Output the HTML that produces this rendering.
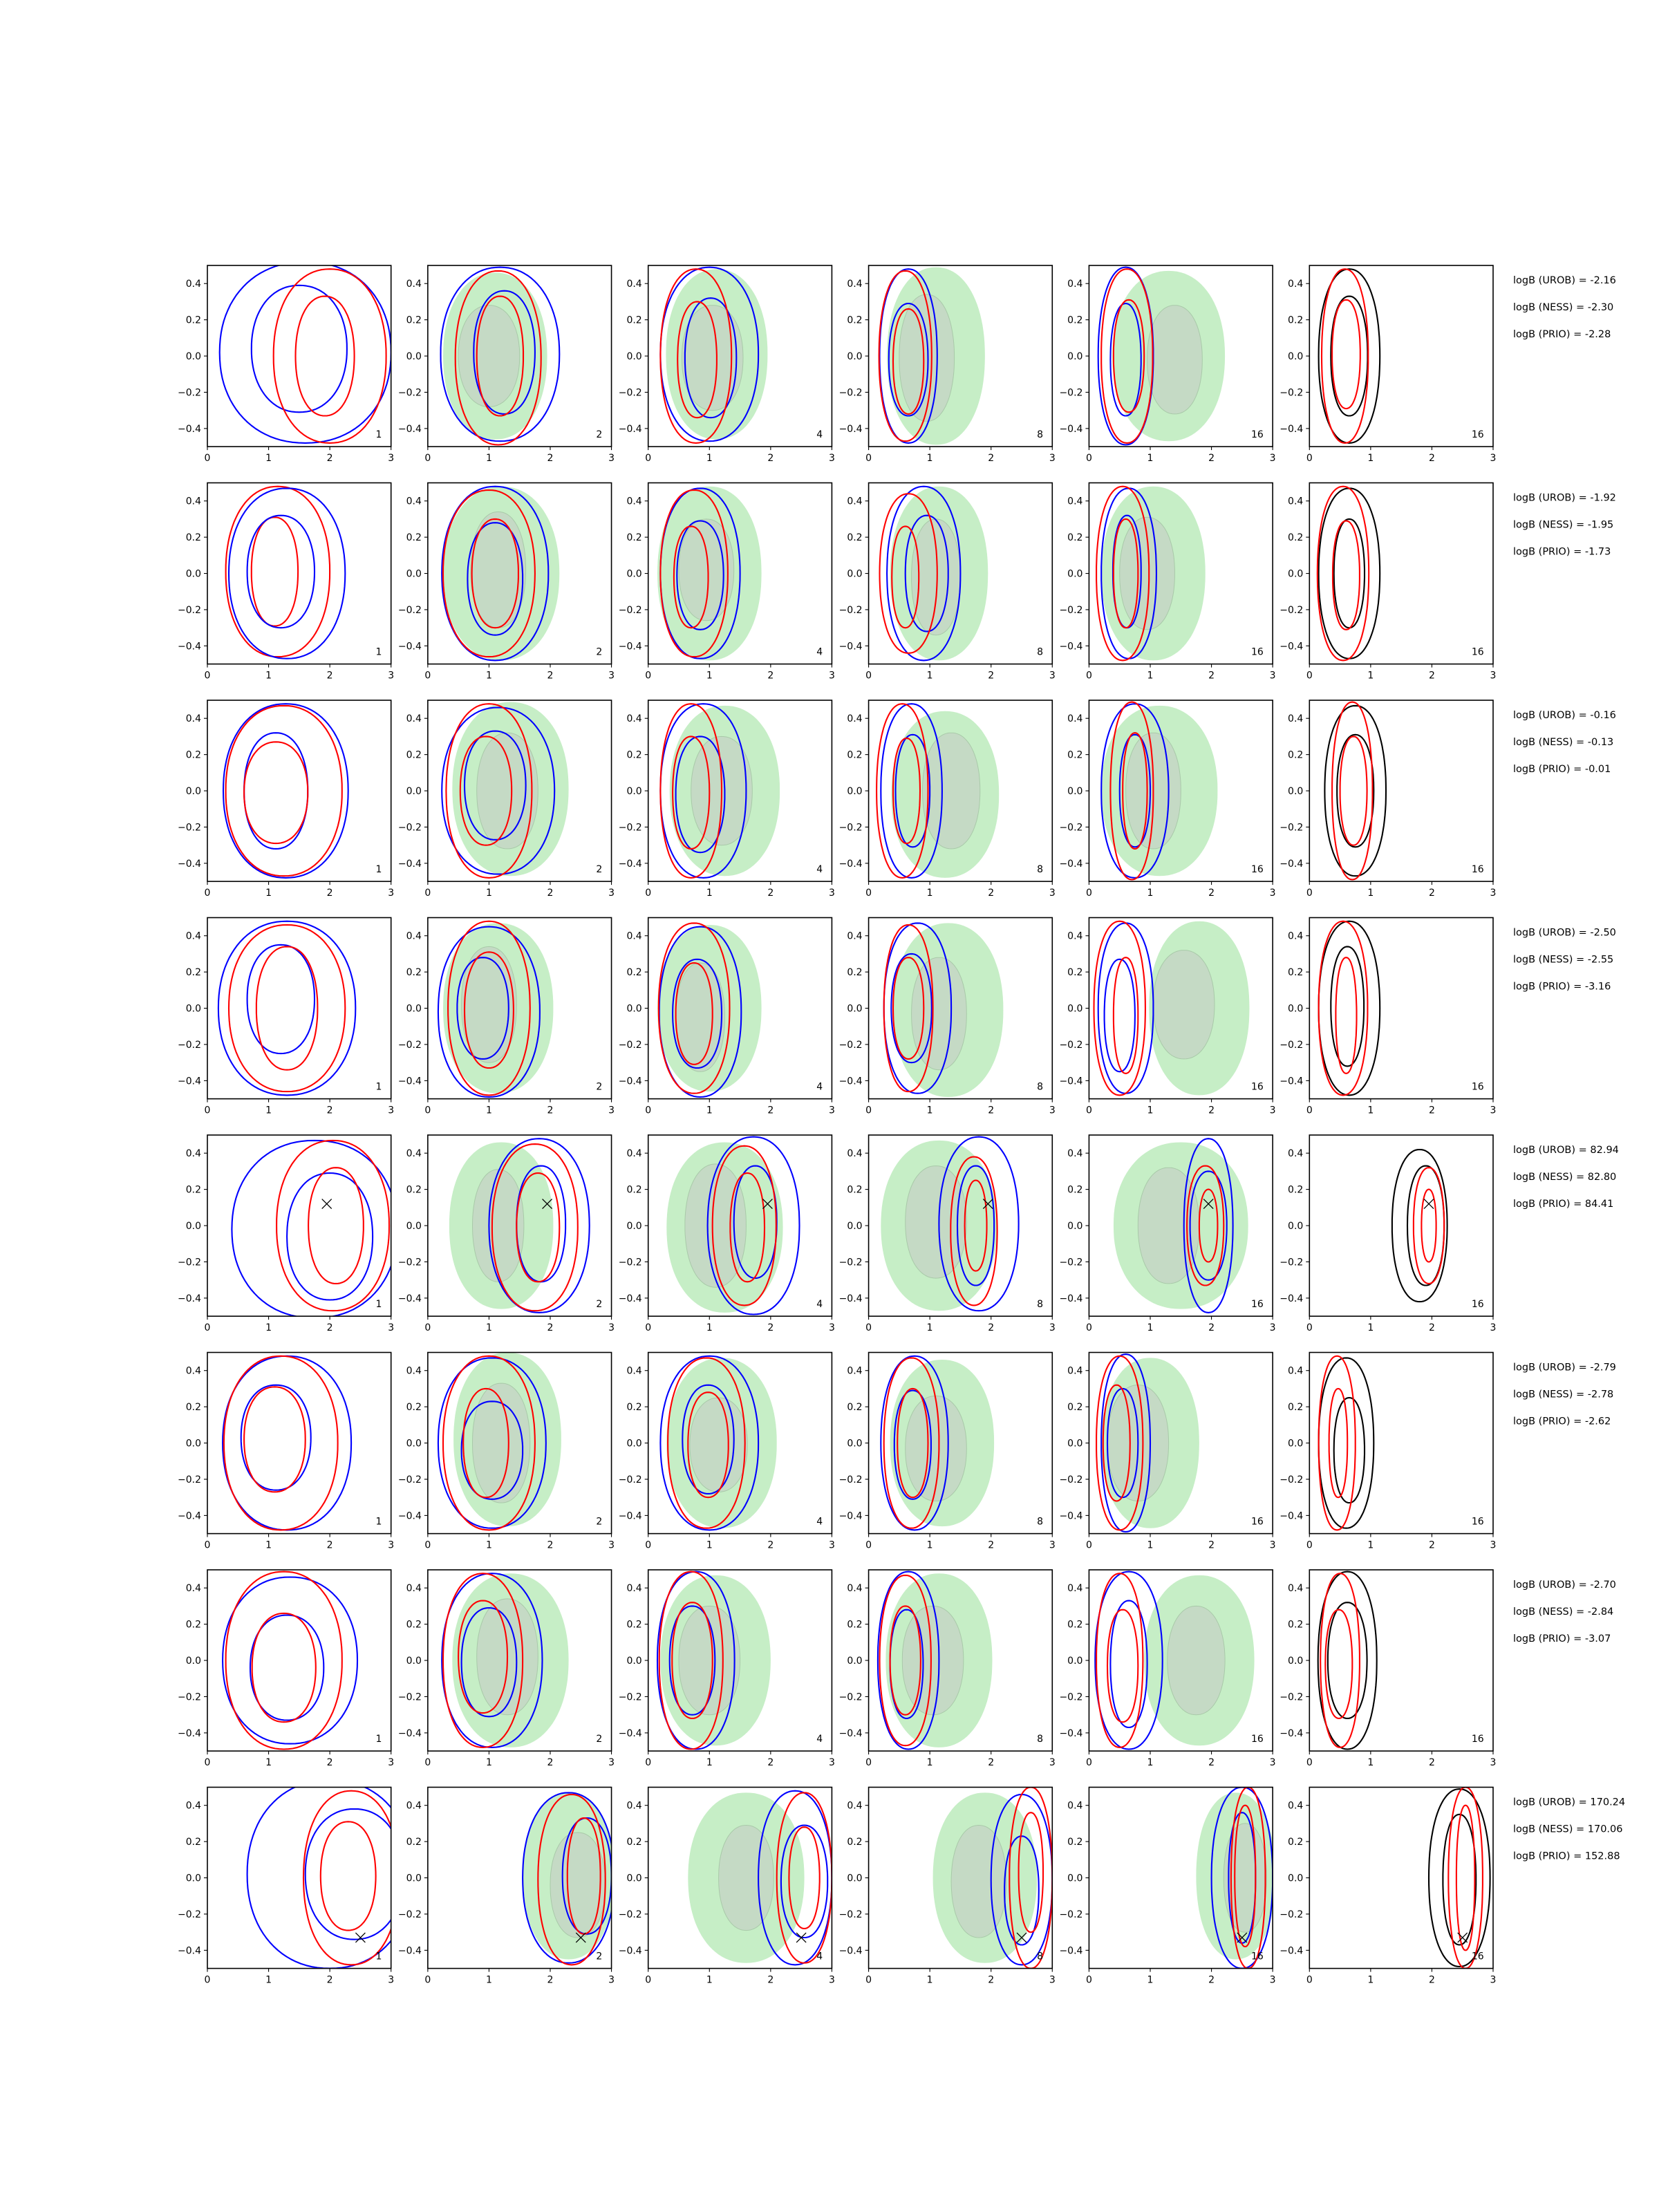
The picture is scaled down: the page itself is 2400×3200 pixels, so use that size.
<!DOCTYPE html>
<html><head><meta charset="utf-8">
<style>
html,body{margin:0;padding:0;background:#fff;}
svg{display:block;font-family:"DejaVu Sans","Liberation Sans",sans-serif;}
</style></head>
<body>
<svg id="fig" width="2400" height="3200" viewBox="0 0 2400 3200" xmlns="http://www.w3.org/2000/svg"></svg>
<script>
// ---- data ----
const panelLabels = ["1","2","4","8","16","16"];
const xTicks = [0,1,2,3];
const yTicks = [-0.4,-0.2,0.0,0.2,0.4];
const logUROB = ["-2.16","-1.92","-0.16","-2.50","82.94","-2.79","-2.70","170.24"];
const logNESS = ["-2.30","-1.95","-0.13","-2.55","82.80","-2.78","-2.84","170.06"];
const logPRIO = ["-2.28","-1.73","-0.01","-3.16","84.41","-2.62","-3.07","152.88"];
const truthX = [null,null,null,null,1.95,null,null,2.5];
const truthY = [null,null,null,null,0.12,null,null,-0.33];
// contours per row: panel -> list of [kind, cx, cy, rx, ry]; g=green fill, k=grey fill, b=blue, r=red, n=black
const row1 = [
 [["b",1.6,0.02,1.4,0.5],["b",1.5,0.04,0.78,0.35],["r",2.0,0,0.92,0.48],["r",1.92,0,0.48,0.33]],
 [["g",1.1,0,0.85,0.46],["k",1.0,0,0.5,0.28],["b",1.18,0.01,0.97,0.48],["b",1.25,0.02,0.5,0.34],["r",1.15,-0.01,0.7,0.48],["r",1.18,0,0.38,0.33]],
 [["g",1.12,0.01,0.83,0.47],["k",1.05,-0.01,0.5,0.29],["b",1.0,0.01,0.8,0.48],["b",1.02,-0.01,0.42,0.33],["r",0.78,0,0.58,0.48],["r",0.8,-0.02,0.32,0.32]],
 [["g",1.1,0,0.8,0.49],["k",0.95,-0.01,0.45,0.35],["b",0.65,0,0.47,0.48],["b",0.65,-0.02,0.32,0.31],["r",0.6,0,0.43,0.47],["r",0.65,-0.03,0.25,0.29]],
 [["g",1.3,0,0.92,0.47],["k",1.4,-0.02,0.45,0.3],["b",0.6,0,0.45,0.49],["b",0.6,-0.02,0.25,0.31],["r",0.62,0,0.42,0.48],["r",0.65,0,0.25,0.31]],
 [["n",0.65,0,0.5,0.48],["n",0.65,0,0.3,0.33],["r",0.58,0,0.38,0.48],["r",0.6,0.01,0.23,0.3]]
];
const row2 = [
 [["r",1.15,0.01,0.85,0.47],["r",1.1,0.01,0.38,0.3],["b",1.3,0,0.95,0.47],["b",1.2,0.01,0.55,0.31]],
 [["g",1.2,0,0.95,0.48],["k",1.15,0.02,0.45,0.32],["b",1.1,0,0.87,0.48],["b",1.1,-0.03,0.45,0.31],["r",1.0,0,0.75,0.46],["r",1.1,0,0.38,0.3]],
 [["g",1.0,0,0.85,0.48],["k",0.95,0.02,0.45,0.28],["b",0.85,0,0.65,0.47],["b",0.85,-0.01,0.38,0.3],["r",0.75,0,0.55,0.46],["r",0.7,-0.02,0.28,0.28]],
 [["g",1.15,0,0.8,0.48],["k",1.1,-0.02,0.4,0.32],["b",0.9,0,0.6,0.48],["b",0.95,0,0.35,0.32],["r",0.65,0,0.47,0.44],["r",0.6,-0.02,0.22,0.28]],
 [["g",1.05,0,0.85,0.48],["k",0.95,0,0.45,0.31],["b",0.65,0,0.45,0.47],["b",0.62,0.01,0.23,0.31],["r",0.55,0,0.43,0.48],["r",0.6,0,0.2,0.3]],
 [["n",0.65,0,0.5,0.47],["n",0.65,0,0.25,0.3],["r",0.55,0,0.42,0.48],["r",0.6,-0.01,0.22,0.3]]
];
const row3 = [
 [["b",1.28,0,1.02,0.48],["b",1.12,0,0.52,0.32],["r",1.25,0,0.95,0.47],["r",1.12,-0.01,0.52,0.28]],
 [["g",1.35,0.01,0.95,0.48],["k",1.3,0,0.5,0.32],["b",1.15,0,0.92,0.46],["b",1.1,0.03,0.5,0.3],["r",1.0,0,0.7,0.48],["r",0.95,0,0.42,0.3]],
 [["g",1.25,0,0.9,0.47],["k",1.2,0,0.5,0.3],["b",0.9,0,0.7,0.48],["b",0.85,-0.02,0.4,0.32],["r",0.7,0,0.5,0.48],["r",0.7,-0.01,0.3,0.31]],
 [["g",1.25,-0.02,0.88,0.46],["k",1.35,0,0.47,0.32],["b",0.7,0,0.5,0.48],["b",0.72,0,0.28,0.31],["r",0.55,0,0.42,0.48],["r",0.62,0,0.22,0.29]],
 [["g",1.15,0,0.95,0.47],["k",1.05,0,0.45,0.32],["b",0.75,0,0.55,0.48],["b",0.75,0,0.25,0.31],["r",0.7,0,0.35,0.49],["r",0.75,0,0.2,0.32]],
 [["n",0.75,0,0.5,0.47],["n",0.75,0,0.3,0.31],["r",0.7,0,0.33,0.49],["r",0.72,0,0.22,0.3]]
];
const row4 = [
 [["b",1.3,0,1.12,0.48],["b",1.2,0.05,0.55,0.3],["r",1.3,0,0.95,0.46],["r",1.3,0,0.5,0.34]],
 [["g",1.15,0,0.9,0.47],["k",1.0,0.02,0.45,0.32],["b",1.0,-0.02,0.83,0.47],["b",0.9,0,0.42,0.28],["r",1.0,0,0.67,0.48],["r",1.0,-0.01,0.4,0.32]],
 [["g",1.0,0,0.85,0.46],["k",0.85,-0.05,0.4,0.3],["b",0.85,-0.02,0.67,0.47],["b",0.8,-0.03,0.4,0.3],["r",0.75,0,0.58,0.47],["r",0.75,-0.03,0.3,0.28]],
 [["g",1.3,-0.01,0.9,0.48],["k",1.15,-0.03,0.45,0.31],["b",0.8,0,0.55,0.47],["b",0.7,0,0.33,0.3],["r",0.65,0,0.4,0.46],["r",0.65,0,0.25,0.28]],
 [["g",1.8,0,0.82,0.48],["k",1.55,0.02,0.5,0.3],["b",0.6,0,0.45,0.47],["b",0.5,-0.04,0.25,0.31],["r",0.5,0,0.42,0.48],["r",0.6,-0.04,0.2,0.32]],
 [["n",0.65,0,0.5,0.48],["n",0.62,0.01,0.27,0.33],["r",0.55,0,0.4,0.48],["r",0.6,-0.04,0.17,0.32]]
];
const row5 = [
 [["b",1.75,-0.02,1.35,0.49],["b",2.0,-0.06,0.7,0.35],["r",2.05,0,0.92,0.47],["r",2.1,0,0.45,0.32]],
 [["g",1.2,0,0.85,0.46],["k",1.15,0,0.42,0.31],["b",1.82,0,0.82,0.48],["b",1.85,0.01,0.4,0.32],["r",1.75,-0.01,0.7,0.46],["r",1.8,-0.01,0.35,0.3]],
 [["g",1.25,-0.01,0.95,0.47],["k",1.1,0,0.5,0.34],["b",1.72,0,0.75,0.49],["b",1.75,0.02,0.35,0.31],["r",1.57,0,0.52,0.44],["r",1.62,-0.01,0.28,0.3]],
 [["g",1.15,0,0.95,0.47],["k",1.1,0.02,0.5,0.31],["b",1.8,0.01,0.65,0.48],["b",1.75,0,0.3,0.33],["r",1.72,-0.03,0.38,0.41],["r",1.75,0,0.18,0.25]],
 [["g",1.5,0,1.1,0.46],["k",1.3,0,0.5,0.32],["b",1.95,0,0.4,0.48],["b",1.95,0,0.3,0.3],["r",1.9,0,0.3,0.33],["r",1.95,0,0.15,0.2]],
 [["n",1.8,0,0.45,0.42],["n",1.9,0,0.3,0.33],["r",1.95,0,0.25,0.32],["r",1.95,0,0.12,0.2]]
];
const row6 = [
 [["b",1.3,0,1.05,0.48],["b",1.12,0.03,0.57,0.29],["r",1.2,0,0.93,0.48],["r",1.1,0.02,0.5,0.29]],
 [["g",1.3,0.02,0.88,0.48],["k",1.2,0,0.47,0.33],["b",1.05,0,0.88,0.47],["b",1.05,-0.04,0.5,0.27],["r",1.0,0,0.75,0.48],["r",0.95,0,0.37,0.3]],
 [["g",1.2,0,0.9,0.47],["k",1.15,-0.01,0.47,0.26],["b",1.0,0,0.8,0.48],["b",0.98,0.02,0.42,0.3],["r",0.95,0,0.63,0.47],["r",0.98,-0.01,0.33,0.29]],
 [["g",1.2,0,0.85,0.46],["k",1.1,-0.03,0.5,0.29],["b",0.75,0,0.55,0.48],["b",0.72,-0.01,0.3,0.3],["r",0.7,0,0.45,0.47],["r",0.72,0,0.25,0.3]],
 [["g",1.0,0,0.8,0.47],["k",0.8,0,0.5,0.32],["b",0.6,0,0.4,0.49],["b",0.55,0,0.25,0.3],["r",0.5,0,0.38,0.48],["r",0.45,0,0.22,0.32]],
 [["n",0.6,0,0.45,0.47],["n",0.65,-0.04,0.25,0.29],["r",0.45,0,0.3,0.48],["r",0.47,0,0.15,0.3]]
];
const row7 = [
 [["b",1.35,0,1.1,0.46],["b",1.3,-0.04,0.6,0.29],["r",1.25,0,0.95,0.49],["r",1.25,-0.04,0.52,0.3]],
 [["g",1.35,0,0.95,0.48],["k",1.3,0.02,0.5,0.32],["b",1.05,0,0.82,0.48],["b",1.0,-0.01,0.45,0.3],["r",0.9,0,0.65,0.48],["r",0.9,0.02,0.4,0.31]],
 [["g",1.1,0,0.9,0.47],["k",1.0,0,0.5,0.3],["b",0.78,0,0.63,0.49],["b",0.72,0,0.37,0.3],["r",0.7,0,0.52,0.49],["r",0.72,0,0.33,0.32]],
 [["g",1.15,0,0.87,0.48],["k",1.05,0,0.5,0.3],["b",0.65,0,0.5,0.49],["b",0.62,-0.02,0.27,0.3],["r",0.6,0,0.42,0.47],["r",0.6,0,0.25,0.3]],
 [["g",1.8,0,0.9,0.47],["k",1.75,0,0.47,0.3],["b",0.65,0,0.55,0.49],["b",0.65,-0.02,0.3,0.35],["r",0.5,0,0.38,0.48],["r",0.55,-0.03,0.25,0.31]],
 [["n",0.62,0,0.48,0.49],["n",0.62,0,0.32,0.32],["r",0.5,0,0.32,0.48],["r",0.48,-0.02,0.22,0.3]]
];
const row8 = [
 [["b",2.0,0.02,1.35,0.52],["b",2.4,0.02,0.8,0.36],["r",2.35,0,0.78,0.48],["r",2.3,0.01,0.45,0.3]],
 [["g",2.3,0.01,0.75,0.46],["k",2.45,-0.04,0.45,0.29],["b",2.3,0,0.75,0.47],["b",2.6,0.01,0.4,0.32],["r",2.35,-0.01,0.55,0.47],["r",2.55,0.01,0.27,0.32]],
 [["g",1.6,0,0.95,0.47],["k",1.6,0,0.45,0.29],["b",2.4,0,0.6,0.48],["b",2.55,-0.02,0.38,0.31],["r",2.55,0,0.45,0.47],["r",2.55,0,0.25,0.28]],
 [["g",1.9,0,0.85,0.47],["k",1.8,-0.02,0.45,0.31],["b",2.5,-0.01,0.5,0.47],["b",2.5,-0.07,0.28,0.3],["r",2.65,0,0.35,0.5],["r",2.65,0.03,0.2,0.33]],
 [["g",2.4,0.01,0.65,0.46],["k",2.55,0,0.35,0.3],["b",2.5,0,0.5,0.5],["b",2.5,0,0.22,0.36],["r",2.6,0,0.28,0.5],["r",2.55,0.01,0.17,0.39]],
 [["n",2.45,0,0.5,0.49],["n",2.45,-0.01,0.27,0.36],["r",2.55,0,0.28,0.5],["r",2.55,0,0.15,0.4]]
];
const rows = [row1,row2,row3,row4,row5,row6,row7,row8];

// ---- layout ----
const NS = "http://www.w3.org/2000/svg";
const svg = document.getElementById("fig");
const AX_W = 265.7, AX_H = 262.1, LEFT0 = 300, TOP0 = 384, COL_STEP = 318.86, ROW_STEP = 314.5;
const XMIN = 0, XMAX = 3, YMIN = -0.5, YMAX = 0.5;
const styles = {
  g:{fill:"#c6eec6",stroke:"none",sw:0},
  k:{fill:"#c5dac5",stroke:"#a9c9a9",sw:1},
  b:{fill:"none",stroke:"#0000ff",sw:2.1},
  r:{fill:"none",stroke:"#ff0000",sw:2.1},
  n:{fill:"none",stroke:"#000000",sw:2.1}
};
const kindNames = {g:"green-density-outer",k:"grey-density-inner",b:"blue-contour",r:"red-contour",n:"black-contour"};

function el(tag, attrs, parent){
  const e = document.createElementNS(NS, tag);
  for (const k in attrs) e.setAttribute(k, attrs[k]);
  parent.appendChild(e);
  return e;
}
function contourPath(sx, sy, cx, cy, rx, ry){
  const n = 2.15, pts = [];
  for (let i = 0; i < 96; i++){
    const t = i / 96 * 2 * Math.PI;
    const c = Math.cos(t), s = Math.sin(t);
    const x = cx + rx * Math.sign(c) * Math.pow(Math.abs(c), 2 / n);
    const y = cy + ry * Math.sign(s) * Math.pow(Math.abs(s), 2 / n);
    pts.push(sx(x).toFixed(1) + "," + sy(y).toFixed(1));
  }
  return "M" + pts.join("L") + "Z";
}

rows.forEach((row, r) => {
  const top = TOP0 + r * ROW_STEP;
  row.forEach((panel, c) => {
    const left = LEFT0 + c * COL_STEP;
    const sx = x => left + (x - XMIN) / (XMAX - XMIN) * AX_W;
    const sy = y => top + (YMAX - y) / (YMAX - YMIN) * AX_H;
    const g = el("g", {}, svg);
    
    
    const clipId = "clip" + r + "_" + c;
    const cp = el("clipPath", {id: clipId}, g);
    el("rect", {x:left, y:top, width:AX_W, height:AX_H}, cp);
    const plot = el("g", {"clip-path":"url(#" + clipId + ")"}, g);
    panel.forEach(ct => {
      const st = styles[ct[0]];
      const p = el("path", {d:contourPath(sx, sy, ct[1], ct[2], ct[3], ct[4]), fill:st.fill, stroke:st.stroke, "stroke-width":st.sw, "stroke-linejoin":"round"}, plot);
      
      
    });
    if (truthX[r] !== null){
      const mx = sx(truthX[r]), my = sy(truthY[r]), d = 7;
      const m = el("path", {d:`M${mx-d},${my-d}L${mx+d},${my+d}M${mx-d},${my+d}L${mx+d},${my-d}`, stroke:"#000", "stroke-width":1.3, fill:"none"}, plot);
      
      
    }
    const frame = el("rect", {x:left, y:top, width:AX_W, height:AX_H, fill:"none", stroke:"#000", "stroke-width":1.6}, g);
    
    
    xTicks.forEach(v => {
      const x = sx(v);
      el("line", {x1:x, y1:top+AX_H, x2:x, y2:top+AX_H+5, stroke:"#000", "stroke-width":1.1}, g);
      const t = el("text", {x:x, y:top+AX_H+21, "font-size":14, "text-anchor":"middle", fill:"#000"}, g);
      t.textContent = String(v);
      
      
    });
    yTicks.forEach(v => {
      const y = sy(v);
      el("line", {x1:left-5, y1:y, x2:left, y2:y, stroke:"#000", "stroke-width":1.1}, g);
      const t = el("text", {x:left-9, y:y+5, "font-size":14, "text-anchor":"end", fill:"#000"}, g);
      t.textContent = (v < 0 ? "\u2212" : "") + Math.abs(v).toFixed(1);
      
      
    });
    const lab = el("text", {x:left+AX_W*0.95, y:top+AX_H*0.95, "font-size":14, "text-anchor":"end", fill:"#000"}, g);
    lab.textContent = panelLabels[c];
    
    
  });
  const tx = 2189;
  [["logB (UROB) = ", logUROB], ["logB (NESS) = ", logNESS], ["logB (PRIO) = ", logPRIO]].forEach((pair, i) => {
    const t = el("text", {x:tx, y:top + 26 + i * 39, "font-size":14.5, fill:"#000"}, svg);
    t.textContent = pair[0] + pair[1][r];
    
    
  });
});
</script>
</body></html>
